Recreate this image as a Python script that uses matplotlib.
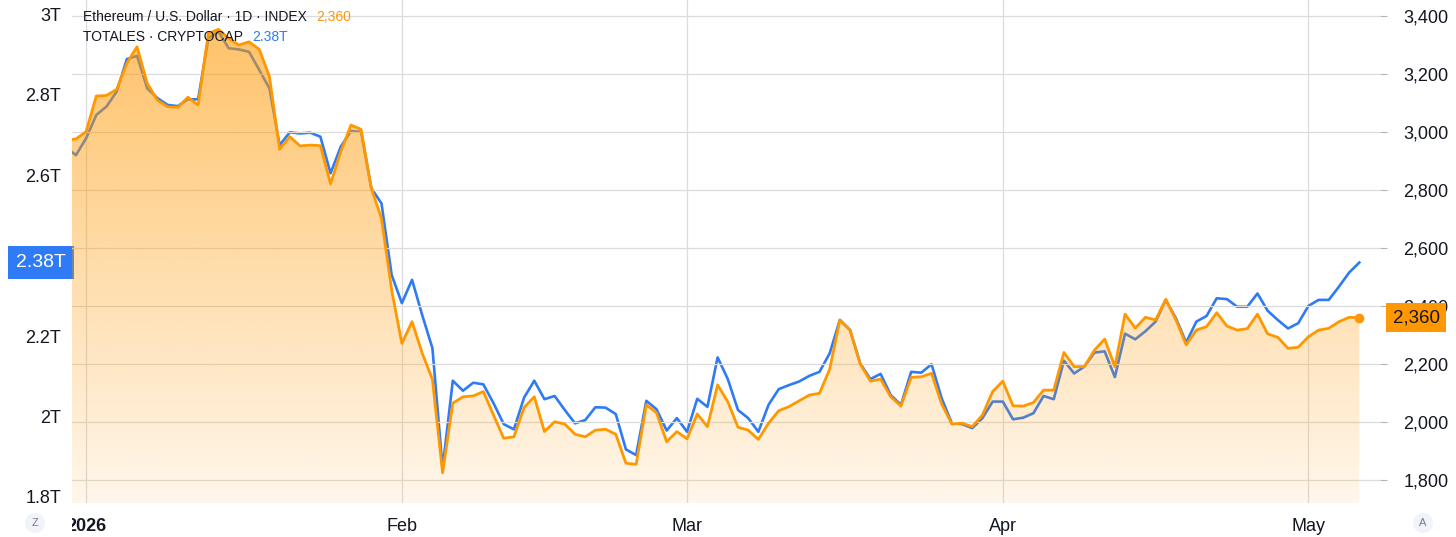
import matplotlib
matplotlib.use("Agg")
import matplotlib.pyplot as plt
import matplotlib.dates as mdates
from matplotlib.patches import Rectangle
import numpy as np
import pandas as pd

plt.rcParams['font.family'] = ['Liberation Sans', 'DejaVu Sans']

# daily closes, 30 Dec 2025 .. 6 May 2026
dates = pd.date_range('2025-12-30', '2026-05-06', freq='D')

eth_usd = [
    2972, 2976, 3001, 3124, 3126, 3147, 3237, 3294, 3168, 3110,
    3087, 3085, 3120, 3093, 3340, 3354, 3323, 3300, 3311, 3285,
    3191, 2940, 2984, 2952, 2955, 2953, 2821, 2932, 3024, 3009,
    2806, 2702, 2455, 2271, 2346, 2237, 2147, 1825, 2065, 2087,
    2090, 2105, 2024, 1944, 1949, 2050, 2087, 1967, 2001, 1993,
    1958, 1949, 1972, 1975, 1958, 1858, 1854, 2059, 2032, 1932,
    1967, 1942, 2028, 1984, 2128, 2070, 1982, 1972, 1940, 1996,
    2039, 2053, 2073, 2093, 2099, 2182, 2352, 2317, 2200, 2141,
    2148, 2087, 2055, 2154, 2156, 2168, 2062, 1993, 1996, 1984,
    2024, 2105, 2141, 2056, 2055, 2067, 2110, 2110, 2240, 2191,
    2191, 2248, 2286, 2191, 2372, 2324, 2361, 2352, 2423, 2352,
    2266, 2317, 2329, 2377, 2331, 2317, 2322, 2372, 2304, 2292,
    2254, 2258, 2294, 2317, 2323, 2346, 2361, 2360,
]

# total crypto market cap ex stables, trillions USD
total_mcap = [
    2.670, 2.650, 2.692, 2.750, 2.771, 2.808, 2.889, 2.897, 2.816, 2.792,
    2.775, 2.772, 2.789, 2.789, 2.941, 2.957, 2.916, 2.913, 2.907, 2.862,
    2.816, 2.675, 2.707, 2.704, 2.706, 2.696, 2.605, 2.671, 2.710, 2.708,
    2.568, 2.530, 2.352, 2.282, 2.340, 2.252, 2.170, 1.871, 2.089, 2.064,
    2.084, 2.080, 2.033, 1.981, 1.968, 2.047, 2.089, 2.043, 2.051, 2.016,
    1.983, 1.991, 2.023, 2.022, 2.006, 1.918, 1.904, 2.039, 2.018, 1.965,
    1.996, 1.962, 2.044, 2.024, 2.147, 2.093, 2.016, 1.996, 1.962, 2.029,
    2.068, 2.078, 2.087, 2.101, 2.111, 2.157, 2.240, 2.215, 2.132, 2.093,
    2.106, 2.053, 2.029, 2.111, 2.109, 2.130, 2.045, 1.983, 1.981, 1.971,
    1.996, 2.037, 2.037, 1.993, 1.997, 2.008, 2.051, 2.043, 2.139, 2.107,
    2.124, 2.159, 2.162, 2.098, 2.206, 2.192, 2.212, 2.236, 2.290, 2.244,
    2.184, 2.236, 2.250, 2.294, 2.292, 2.273, 2.273, 2.306, 2.263, 2.240,
    2.219, 2.232, 2.275, 2.290, 2.290, 2.323, 2.358, 2.383,
]

month_ticks = pd.to_datetime(['2026-01-01', '2026-02-01', '2026-03-01',
                              '2026-04-01', '2026-05-01'])
month_labels = ['2026', 'Feb', 'Mar', 'Apr', 'May']
eth_ticks = [1800, 2000, 2200, 2400, 2600, 2800, 3000, 3200, 3400]
total_ticks = [1.8, 2.0, 2.2, 2.4, 2.6, 2.8, 3.0]
total_labels = ['1.8T', '2T', '2.2T', '2.4T', '2.6T', '2.8T', '3T']

ORANGE = '#FF9800'
BLUE = '#2F7BF5'
TEXT = '#131722'
GRID = '#DCDCDC'

fig = plt.figure(figsize=(14.56, 5.37), dpi=100)
fig.subplots_adjust(left=72 / 1456, right=1380 / 1456, bottom=34 / 537, top=1.0)
ax = fig.add_subplot(111)      # TOTALES, left scale
ax2 = ax.twinx()               # ETHUSD, right scale (drawn on top)

jan1 = mdates.date2num(pd.Timestamp('2026-01-01'))
x0, x1 = jan1 - 1.384, jan1 + 127.03
eth_lim = (1720.8, 3455.2)
tot_lim = (1.7848, 3.036)

# --- TOTALES (blue) ---
ax.plot(dates, total_mcap, color=BLUE, lw=1.9, zorder=3, solid_joinstyle='round')
ax.set_ylim(*tot_lim)
ax.set_xlim(x0, x1)
ax.set_yticks(total_ticks)
ax.set_yticklabels(total_labels)
ax.tick_params(axis='y', length=0, pad=8, labelsize=13, labelcolor=TEXT)
for m in month_ticks:
    ax.axvline(m, color=GRID, lw=0.9, zorder=0)

# --- ETHUSD (orange area) ---
ax2.set_ylim(*eth_lim)
for v in eth_ticks:
    ax2.axhline(v, color=GRID, lw=0.9, zorder=0)
poly = ax2.fill_between(dates, eth_usd, eth_lim[0], facecolor='none', edgecolor='none')
grad = np.zeros((256, 1, 4))
grad[..., 0] = 1.0
grad[..., 1] = 152 / 255
grad[..., 2] = 0.0
grad[:, 0, 3] = np.linspace(0.08, 0.62, 256)
xn = mdates.date2num(dates)
im = ax2.imshow(grad, extent=[xn[0], xn[-1], eth_lim[0], eth_lim[1]],
                origin='lower', aspect='auto', zorder=1, interpolation='bilinear')
im.set_clip_path(poly.get_paths()[0], transform=ax2.transData)
ax2.plot(dates, eth_usd, color=ORANGE, lw=2.0, zorder=4, solid_joinstyle='round')
ax2.plot(dates[-1], eth_usd[-1], 'o', color=ORANGE, ms=6, zorder=5)
ax2.set_xlim(x0, x1)
ax2.set_ylim(*eth_lim)
ax2.set_yticks(eth_ticks)
ax2.set_yticklabels([f'{v:,}' for v in eth_ticks])
ax2.tick_params(axis='y', length=5, width=0.8, color='#B2B5BE', pad=12,
                labelsize=13, labelcolor=TEXT)

# x axis
ax.set_xticks(month_ticks)
ax.set_xticklabels(month_labels)
ax.tick_params(axis='x', length=0, pad=11, labelsize=13, labelcolor=TEXT)
ax.get_xticklabels()[0].set_fontweight('bold')

for a in (ax, ax2):
    for s in a.spines.values():
        s.set_visible(False)

# left price-scale panel hides the start of the "2026" label
fig.patches.append(Rectangle((0, 0), 72 / 1456, 34 / 537, transform=fig.transFigure,
                             facecolor='white', edgecolor='none', zorder=1))

# price tags
ax.annotate(f'{total_mcap[-1]:.2f}T', xy=(0, total_mcap[-1]),
            xycoords=('axes fraction', 'data'), xytext=(-4.5, 0),
            textcoords='offset points', ha='right', va='center',
            fontsize=14, color='white', zorder=10, annotation_clip=False,
            bbox=dict(boxstyle='square,pad=0.42', fc=BLUE, ec='none'))
ax2.annotate(f'{eth_usd[-1]:,}', xy=(1, eth_usd[-1]),
             xycoords=('axes fraction', 'data'), xytext=(9, 0),
             textcoords='offset points', ha='left', va='center',
             fontsize=13.5, color=TEXT, zorder=10, annotation_clip=False,
             bbox=dict(boxstyle='square,pad=0.34', fc=ORANGE, ec='none'))

# legend lines (top-left)
fig.canvas.draw()
rend = fig.canvas.get_renderer()


def legend_line(y_px, label, value, color):
    t = fig.text(83 / 1456, 1 - y_px / 537, label, fontsize=10, color=TEXT,
                 ha='left', va='center')
    bb = t.get_window_extent(renderer=rend)
    fig.text((bb.x1 + 9) / 1456, 1 - y_px / 537, value, fontsize=10,
             color=color, ha='left', va='center')


legend_line(17, 'Ethereum / U.S. Dollar · 1D · INDEX', f'{eth_usd[-1]:,}', ORANGE)
legend_line(37, 'TOTALES · CRYPTOCAP', f'{total_mcap[-1]:.2f}T', BLUE)

# scale buttons
for xp, ch in ((35, 'Z'), (1423, 'A')):
    fig.text(xp / 1456, 1 - 523 / 537, ch, fontsize=8, color='#787B86',
             ha='center', va='center',
             bbox=dict(boxstyle='circle,pad=0.45', fc='#F0F3FA', ec='none'))

fig.savefig('out.png', dpi=100, facecolor='white')
